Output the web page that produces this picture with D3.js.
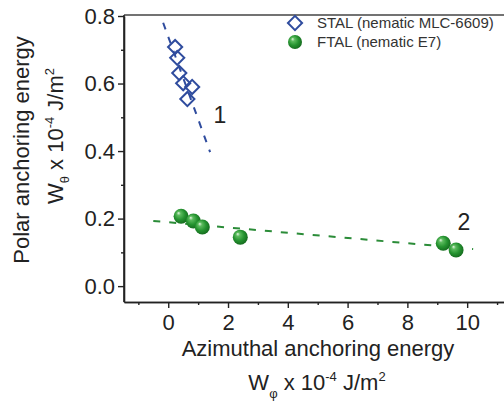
<!DOCTYPE html>
<html>
<head>
<meta charset="utf-8">
<script src="https://cdn.jsdelivr.net/npm/d3@7"></script>
<style>
  html, body { margin: 0; padding: 0; background: #fff; }
  svg { display: block; font-family: "Liberation Sans", Arial, sans-serif; }
</style>
</head>
<body>
<div id="chart"></div>
<script>
// ---- data ----
const stalX = [0.23, 0.30, 0.37, 0.50, 0.80, 0.64];
const stalY = [0.708, 0.676, 0.631, 0.601, 0.590, 0.554];
const ftalX = [0.43, 0.84, 1.14, 2.41, 9.20, 9.63];
const ftalY = [0.207, 0.193, 0.175, 0.145, 0.127, 0.107];
const fit1X = [-0.17, 1.40];
const fit1Y = [0.78, 0.397];
const fit2X = [-0.50, 10.20];
const fit2Y = [0.193, 0.110];
const xMajorTicks = [0, 2, 4, 6, 8, 10];
const xMinorTicks = [-1, 1, 3, 5, 7, 9, 11];
const yMajorTicks = [0.0, 0.2, 0.4, 0.6, 0.8];
const yMinorTicks = [0.1, 0.3, 0.5, 0.7];
const legendLabels = ["STAL (nematic MLC-6609)", "FTAL (nematic E7)"];
const curveLabels = ["1", "2"];

const W = 504, H = 406;
const svg = d3.select("#chart").append("svg").attr("width", W).attr("height", H);

const x = d3.scaleLinear().domain([-1.48, 11.5]).range([124, 512]);
const y = d3.scaleLinear().domain([-0.047, 0.8]).range([302, 16]);

const defs = svg.append("defs");
const grad = defs.append("radialGradient").attr("id", "sphere")
  .attr("cx", "45%").attr("cy", "45%").attr("r", "60%")
  .attr("fx", "32%").attr("fy", "28%");
grad.append("stop").attr("offset", "0%").attr("stop-color", "#e6f6e4");
grad.append("stop").attr("offset", "22%").attr("stop-color", "#5cbb5e");
grad.append("stop").attr("offset", "60%").attr("stop-color", "#259330");
grad.append("stop").attr("offset", "100%").attr("stop-color", "#13661c");

const blue = "#2f4c9e", green = "#2b8c38", axisCol = "#222";

// top border
svg.append("line").attr("x1", x.range()[0]).attr("x2", W).attr("y1", 15).attr("y2", 15)
  .attr("stroke", "#444").attr("stroke-width", 1.5);

// fit lines
const line = d3.line().x(d => x(d[0])).y(d => y(d[1]));
svg.append("path").datum(d3.zip(fit1X, fit1Y)).attr("d", line)
  .attr("fill", "none").attr("stroke", blue).attr("stroke-width", 2)
  .attr("stroke-dasharray", "7,8");
svg.append("path").datum(d3.zip(fit2X, fit2Y)).attr("d", line)
  .attr("fill", "none").attr("stroke", green).attr("stroke-width", 2)
  .attr("stroke-dasharray", "7,9");

// STAL diamonds
const diamond = d3.symbol().type(d3.symbolSquare).size(100);
svg.append("g").selectAll("path").data(d3.zip(stalX, stalY)).join("path")
  .attr("d", diamond)
  .attr("transform", d => `translate(${x(d[0])},${y(d[1])}) rotate(45)`)
  .attr("fill", "none").attr("stroke", blue).attr("stroke-width", 2);

// FTAL spheres
svg.append("g").selectAll("circle").data(d3.zip(ftalX, ftalY)).join("circle")
  .attr("cx", d => x(d[0])).attr("cy", d => y(d[1])).attr("r", 7.5)
  .attr("fill", "url(#sphere)");

// axes
const xAxis = d3.axisBottom(x).tickValues(xMajorTicks).tickSize(6).tickSizeOuter(0)
  .tickPadding(6).tickFormat(d3.format("d"));
const gx = svg.append("g").attr("transform", "translate(0,302)").call(xAxis);
const xMinor = d3.axisBottom(x).tickValues(xMinorTicks).tickSize(3).tickSizeOuter(0).tickFormat("");
const gxm = svg.append("g").attr("transform", "translate(0,302)").call(xMinor);

const yAxis = d3.axisLeft(y).tickValues(yMajorTicks).tickSize(6).tickSizeOuter(0)
  .tickPadding(3).tickFormat(d3.format(".1f"));
const gy = svg.append("g").attr("transform", "translate(124,0)").call(yAxis);
const yMinor = d3.axisLeft(y).tickValues(yMinorTicks).tickSize(3).tickSizeOuter(0).tickFormat("");
const gym = svg.append("g").attr("transform", "translate(124,0)").call(yMinor);

[gx, gxm, gy, gym].forEach(g => {
  g.selectAll(".domain").attr("stroke", axisCol).attr("stroke-width", 1.6);
  g.selectAll(".tick line").attr("stroke", axisCol).attr("stroke-width", 1.4);
  g.selectAll(".tick text").attr("fill", axisCol)
    .style("font-size", "22px").style("font-family", "'Liberation Sans', Arial, sans-serif");
});
gy.select(".domain").attr("d", `M0,${y.range()[0]}V${y.range()[1] - 1}`);
gx.selectAll(".tick text").attr("dy", "0.71em");

// axis titles
const tfont = "22px";
svg.append("text").attr("x", 318).attr("y", 356).attr("text-anchor", "middle")
  .attr("fill", axisCol).style("font-size", tfont).text("Azimuthal anchoring energy");

const xt2 = svg.append("text").attr("x", 317).attr("y", 390).attr("text-anchor", "middle")
  .attr("fill", axisCol).style("font-size", tfont);
xt2.append("tspan").text("W");
xt2.append("tspan").attr("dy", 8).style("font-size", "13px").text("φ");
xt2.append("tspan").attr("dy", -8).text(" x 10");
xt2.append("tspan").attr("dy", -9).style("font-size", "13px").text("-4");
xt2.append("tspan").attr("dy", 9).text(" J/m");
xt2.append("tspan").attr("dy", -9).style("font-size", "13px").text("2");

svg.append("text").attr("transform", "translate(29,150) rotate(-90)").attr("text-anchor", "middle")
  .attr("fill", axisCol).style("font-size", tfont).text("Polar anchoring energy");

const yt2 = svg.append("text").attr("transform", "translate(63,136) rotate(-90)").attr("text-anchor", "middle")
  .attr("fill", axisCol).style("font-size", tfont);
yt2.append("tspan").text("W");
yt2.append("tspan").attr("dy", 6).style("font-size", "13px").text("θ");
yt2.append("tspan").attr("dy", -6).text(" x 10");
yt2.append("tspan").attr("dy", -9).style("font-size", "13px").text("-4");
yt2.append("tspan").attr("dy", 9).text(" J/m");
yt2.append("tspan").attr("dy", -9).style("font-size", "13px").text("2");

// curve labels
svg.append("text").attr("x", 220).attr("y", 123).attr("text-anchor", "middle")
  .attr("fill", axisCol).style("font-size", "23px").text(curveLabels[0]);
svg.append("text").attr("x", 464).attr("y", 230).attr("text-anchor", "middle")
  .attr("fill", axisCol).style("font-size", "23px").text(curveLabels[1]);

// legend
const lg = svg.append("g");
lg.append("path").attr("d", diamond).attr("transform", "translate(295,23) rotate(45)")
  .attr("fill", "none").attr("stroke", blue).attr("stroke-width", 2);
lg.append("circle").attr("cx", 295).attr("cy", 42).attr("r", 7).attr("fill", "url(#sphere)");
lg.append("text").attr("x", 317).attr("y", 28).attr("fill", "#333").style("font-size", "15px").text(legendLabels[0]);
lg.append("text").attr("x", 317).attr("y", 47).attr("fill", "#333").style("font-size", "15px").text(legendLabels[1]);
</script>
</body>
</html>
